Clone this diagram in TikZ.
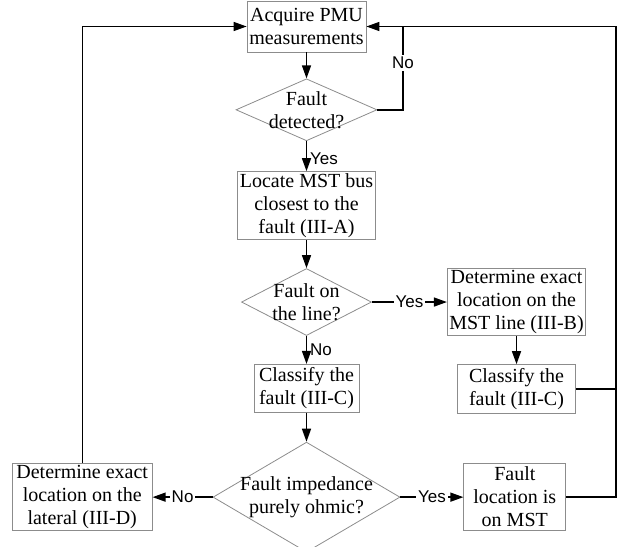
\documentclass[tikz,border=0pt]{standalone}
\usepackage{fontspec}
\setmainfont{Liberation Serif}
\newfontfamily\lblfont{Liberation Sans}
\usepackage{tikz}
\usetikzlibrary{positioning,arrows.meta,shapes.geometric}

\begin{document}
\begin{tikzpicture}[
  x=1pt, y=-1pt,
  node distance=28pt,
  every node/.style={font=\fontsize{20}{23}\selectfont},
  every label/.style={align=center},
  box/.style={
    draw=black!45, line width=0.8pt,
    align=center, inner sep=2pt, fill=white
  },
  decision/.style={diamond, draw=black!45, line width=0.8pt, inner sep=0pt},
  arr/.style={-{Triangle[length=13pt,width=9pt]}, line width=1.4pt},
  ln/.style={line width=1.4pt},
  lbl/.style={font=\lblfont\fontsize{17}{19}\selectfont, fill=white, inner sep=2pt}
]
  \useasboundingbox (0,0) rectangle (623,546);

  % Main column
  \node[box, minimum width=119pt, minimum height=51pt] (acq) at (306.5,26.5) {Acquire PMU\\measurements};
  \node[decision, minimum width=141pt, minimum height=62pt, below=26pt of acq,
        label=center:{Fault\\detected?}] (det) {};
  \node[box, minimum width=135pt, minimum height=62pt, below=30pt of det] (loc) {Locate MST bus\\closest to the\\fault (III-A)};
  \node[decision, minimum width=130pt, minimum height=67pt, below=28pt of loc,
        label=center:{Fault on\\the line?}] (online) {};
  \node[box, minimum width=105pt, minimum height=48pt, below=28pt of online] (cls) {Classify the\\fault (III-C)};
  \node[decision, minimum width=187pt, minimum height=110pt, below=29pt of cls,
        label=center:{Fault impedance\\purely ohmic?}] (ohm) {};

  % Right branch
  \node[box, minimum width=136pt, minimum height=67pt, right=75pt of online] (exact) {Determine exact\\location on the\\MST line (III-B)};
  \node[box, minimum width=118pt, minimum height=49pt, below=28pt of exact] (clsb) {Classify the\\fault (III-C)};
  \node[box, minimum width=102pt, minimum height=67pt, right=63pt of ohm] (onmst) {Fault\\location is\\on MST};

  % Left branch
  \node[box, minimum width=140pt, minimum height=67pt, left=60pt of ohm] (lat) {Determine exact\\location on the\\lateral (III-D)};

  % Loop corners
  \coordinate (nloop) at (403,0);
  \coordinate (rloop) at (616,0);

  % Arrows
  \draw[arr] (acq.south) -- (det.north);
  \draw[arr] (det.south) -- node[lbl, right=3pt, fill=none, inner sep=0pt, yshift=-3pt] {Yes} (loc.north);
  \draw[arr] (loc.south) -- (online.north);
  \draw[arr] (online.east) -- node[lbl] {Yes} (exact.west);
  \draw[arr] (online.south) -- node[lbl, right=3pt, fill=none, inner sep=0pt] {No} (cls.north);
  \draw[arr] (exact.south) -- (clsb.north);
  \draw[arr] (cls.south) -- (ohm.north);
  \draw[arr] (ohm.east) -- node[lbl] {Yes} (onmst.west);
  \draw[arr] (ohm.west) -- node[lbl] {No} (lat.east);

  % Feedback lines
  \draw[ln] (det.east) -| node[lbl, pos=0.78] {No} (nloop |- acq.east);
  \draw[arr] (onmst.east) -| (rloop |- acq.east) -- (acq.east);
  \draw[ln] (clsb.east) -- (clsb.east -| rloop);
  \draw[arr] (lat.north) |- (acq.west);
\end{tikzpicture}
\end{document}
